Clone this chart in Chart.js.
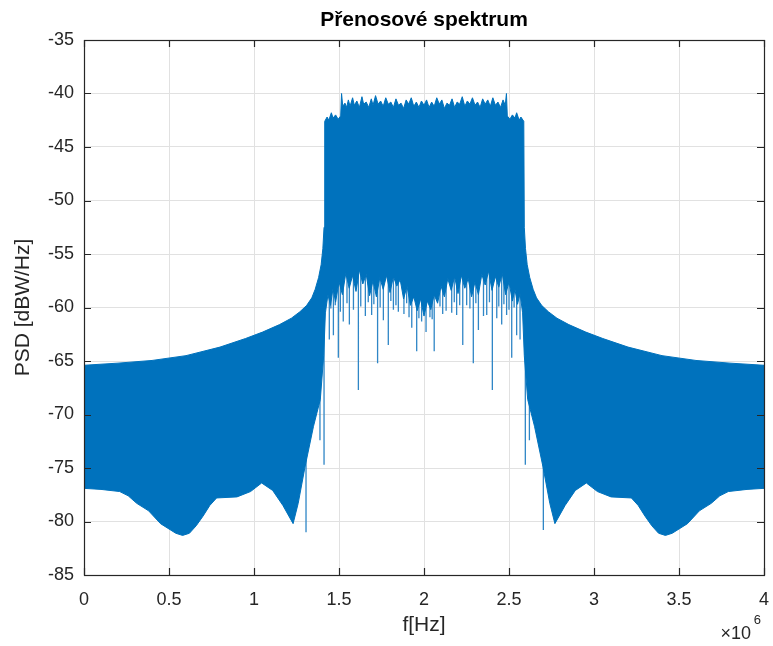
<!DOCTYPE html>
<html>
<head>
<meta charset="utf-8">
<script src="https://cdn.jsdelivr.net/npm/chart.js"></script>
<style>
  html, body { margin: 0; padding: 0; background: #ffffff; }
  #wrap { width: 773px; height: 646px; }
</style>
</head>
<body>
<div id="wrap"><canvas id="c" width="773" height="646"></canvas></div>
<script>
// ---------- data (frequency in units of 10^6 Hz, PSD in dBW/Hz) ----------
const chartTitle = 'Přenosové spektrum';
const xAxisLabel = 'f[Hz]';
const yAxisLabel = 'PSD [dBW/Hz]';
const xTickValues = [0, 0.5, 1, 1.5, 2, 2.5, 3, 3.5, 4];
const xTickLabels = ['0', '0.5', '1', '1.5', '2', '2.5', '3', '3.5', '4'];
const yTickValues = [-85, -80, -75, -70, -65, -60, -55, -50, -45, -40, -35];
const yTickLabels = ['-85', '-80', '-75', '-70', '-65', '-60', '-55', '-50', '-45', '-40', '-35'];

// upper envelope of the spectrum (left to right)
const freqUpper = [0, 0.2, 0.4, 0.6, 0.8, 0.95, 1.05, 1.15, 1.22, 1.27, 1.31, 1.34, 1.36, 1.38,
  1.395, 1.405, 1.412,
  1.416, 1.43, 1.44, 1.455, 1.465, 1.48, 1.495, 1.51, 1.515, 1.522, 1.535, 1.545, 1.555, 1.565,
  1.58, 1.59, 1.605, 1.62, 1.635, 1.645, 1.66, 1.675, 1.69, 1.70, 1.715, 1.73, 1.745, 1.76,
  1.775, 1.79, 1.805, 1.82, 1.835, 1.85, 1.865, 1.88, 1.895, 1.91, 1.925, 1.94, 1.955, 1.97,
  1.985, 2.0, 2.015, 2.03, 2.045, 2.06, 2.075, 2.09, 2.105, 2.12, 2.135, 2.15, 2.165, 2.18,
  2.195, 2.21, 2.225, 2.24, 2.255, 2.27, 2.285, 2.30, 2.315, 2.33, 2.345, 2.36, 2.375, 2.39,
  2.405, 2.42, 2.435, 2.45, 2.465, 2.478, 2.485, 2.49, 2.505, 2.52, 2.535, 2.545, 2.56, 2.57,
  2.587,
  2.590, 2.597, 2.607, 2.622, 2.642, 2.662, 2.692, 2.732, 2.782, 2.852, 2.952, 3.052, 3.2, 3.4,
  3.6, 3.8, 4.0];
const psdUpper = [-65.4, -65.2, -64.95, -64.5, -63.7, -62.9, -62.3, -61.6, -61.0, -60.4, -59.8, -59.1, -58.3, -57.2,
  -56.0, -54.5, -52.5,
  -42.6, -42.2, -42.5, -41.8, -42.3, -42.0, -42.4, -42.1, -40.0, -41.2, -40.9, -41.3, -40.6, -41.2,
  -40.4, -41.1, -40.7, -41.3, -40.3, -41.0, -40.8, -41.3, -40.5, -41.1, -40.2, -41.0, -40.7, -41.2,
  -40.4, -41.0, -40.8, -41.3, -40.5, -41.1, -40.9, -41.4, -40.6, -41.0, -40.4, -41.2, -40.8, -41.3,
  -40.7, -41.1, -40.6, -41.3, -40.8, -41.2, -40.4, -41.0, -40.6, -41.4, -40.9, -41.1, -40.5, -41.3,
  -40.8, -41.0, -40.3, -41.2, -40.7, -41.0, -40.4, -41.1, -40.8, -41.3, -40.5, -41.0, -40.6, -41.2,
  -40.4, -41.1, -40.8, -41.3, -40.6, -41.1, -40.0, -42.1, -42.4, -42.0, -42.3, -41.8, -42.5, -42.2,
  -42.6,
  -52.5, -54.5, -56.0, -57.2, -58.3, -59.1, -59.8, -60.4, -61.0, -61.6, -62.3, -62.9, -63.7, -64.5,
  -64.95, -65.2, -65.4];

// lower envelope of the spectrum (left to right)
const freqLower = [0, 0.1, 0.21, 0.26, 0.31, 0.38, 0.45, 0.50, 0.54, 0.58, 0.62, 0.66, 0.70, 0.74,
  0.78, 0.90, 0.98, 1.045, 1.11, 1.17, 1.23, 1.26, 1.30, 1.35, 1.39, 1.41, 1.42,
  1.435, 1.45, 1.465, 1.48, 1.50, 1.52, 1.54, 1.56, 1.58, 1.60, 1.62, 1.64, 1.66, 1.68, 1.70,
  1.72, 1.74, 1.76, 1.78, 1.80, 1.82, 1.84, 1.86, 1.88, 1.90, 1.92, 1.94, 1.96, 1.98, 2.00,
  2.02, 2.04, 2.06, 2.08, 2.10, 2.12, 2.14, 2.16, 2.18, 2.20, 2.22, 2.24, 2.26, 2.28, 2.30,
  2.32, 2.34, 2.36, 2.38, 2.40, 2.42, 2.44, 2.46, 2.48, 2.50, 2.52, 2.535, 2.55, 2.565, 2.58,
  2.59, 2.61, 2.65, 2.70, 2.74, 2.77, 2.83, 2.89, 2.955, 3.02, 3.10, 3.22, 3.26, 3.30, 3.34,
  3.38, 3.42, 3.46, 3.50, 3.55, 3.62, 3.69, 3.74, 3.79, 3.90, 4.0];
const psdLower = [-76.9, -77.0, -77.2, -77.6, -78.3, -79.0, -80.2, -80.7, -81.1, -81.3, -81.1, -80.4, -79.5, -78.5,
  -77.8, -77.7, -77.2, -76.4, -77.1, -78.5, -80.2, -78.3, -74.9, -71.1, -68.6, -64.5, -60.5,
  -58.8, -59.8, -58.2, -59.5, -57.6, -58.8, -56.8, -58.2, -57.0, -58.5, -56.5, -57.8, -56.9, -58.9, -57.5,
  -59.0, -57.2, -58.3, -57.0, -58.6, -57.1, -58.0, -57.4, -59.2, -58.0, -59.8, -59.0, -60.3, -59.2, -60.8,
  -59.4, -60.2, -58.8, -59.6, -58.0, -59.0, -57.3, -58.4, -57.1, -58.7, -57.0, -58.2, -57.3, -59.0, -57.6,
  -58.8, -56.9, -57.9, -56.6, -58.4, -57.1, -58.1, -56.8, -58.8, -57.6, -59.4, -58.3, -59.7, -58.7, -60.5,
  -64.5, -68.6, -71.1, -74.9, -78.3, -80.2, -78.5, -77.1, -76.4, -77.2, -77.7, -77.8, -78.5, -79.5, -80.4,
  -81.1, -81.3, -81.1, -80.7, -80.2, -79.0, -78.3, -77.6, -77.2, -77.0, -76.9];

// narrow downward spikes: frequency, value inside the band, spike tip value
const spikeFreq = [1.306, 1.388, 1.412,
  1.443, 1.452, 1.467, 1.478, 1.496, 1.508, 1.525, 1.547, 1.561, 1.585, 1.614, 1.628, 1.655,
  1.672, 1.692, 1.705, 1.727, 1.742, 1.761, 1.79, 1.805, 1.82, 1.835, 1.849, 1.882,
  1.898, 1.912, 1.928, 1.957, 1.97, 1.986, 2.012, 2.035, 2.048, 2.06, 2.094, 2.11, 2.13,
  2.163, 2.178, 2.192, 2.21, 2.228, 2.251, 2.27, 2.29, 2.305,
  2.32, 2.35, 2.369, 2.385, 2.402, 2.428, 2.44, 2.457, 2.47, 2.486, 2.5, 2.516, 2.53, 2.545, 2.565,
  2.596, 2.620, 2.702];
const spikeFrom = [-70, -62, -60,
  -50, -50, -50, -50, -50, -50, -50, -50, -50, -50, -50, -50, -50,
  -50, -50, -50, -50, -50, -50, -50, -50, -50, -50, -50, -50,
  -50, -50, -50, -50, -50, -50, -50, -50, -50, -50, -50, -50, -50,
  -50, -50, -50, -50, -50, -50, -50, -50, -50,
  -50, -50, -50, -50, -50, -50, -50, -50, -50, -50, -50, -50, -50, -50, -50,
  -60, -62, -70];
const spikeTo = [-81.0, -72.4, -74.7,
  -63.0, -60.1, -62.6, -59.8, -64.7, -60.4, -61.3, -59.6, -61.6, -60.2, -67.7, -59.9, -60.8,
  -59.5, -60.7, -59.7, -65.2, -60.0, -61.2, -63.5, -59.4, -60.2, -59.8, -60.4, -60.6,
  -59.6, -60.9, -61.9, -64.1, -61.0, -61.3, -62.3, -60.9, -61.1, -64.1, -59.9, -60.6, -60.3,
  -60.5, -59.5, -60.7, -59.8, -63.5, -59.8, -60.1, -65.2, -59.6,
  -62.1, -60.8, -60.7, -59.5, -67.7, -61.0, -59.9, -61.6, -59.7, -60.7, -60.2, -64.7, -60.0, -62.6, -63.0,
  -74.7, -72.4, -80.8];

// ---------- build datasets from the arrays ----------
const bandShape = [];
for (let i = 0; i < freqUpper.length; i++) bandShape.push({ x: freqUpper[i], y: psdUpper[i] });
for (let i = freqLower.length - 1; i >= 0; i--) bandShape.push({ x: freqLower[i], y: psdLower[i] });

const spikeSegs = [];
for (let i = 0; i < spikeFreq.length; i++) {
  spikeSegs.push({ x: spikeFreq[i], y: spikeFrom[i] });
  spikeSegs.push({ x: spikeFreq[i], y: spikeTo[i] });
  spikeSegs.push({ x: spikeFreq[i], y: null });
}

const FONT = "'Liberation Sans', Arial, Helvetica, sans-serif";
const TXT = '#262626';

const bgPlugin = {
  id: 'bg',
  beforeDraw(chart) {
    const ctx = chart.ctx;
    ctx.save();
    ctx.fillStyle = '#ffffff';
    ctx.fillRect(0, 0, chart.width, chart.height);
    ctx.restore();
  }
};

const framePlugin = {
  id: 'frame',
  afterDraw(chart) {
    const { ctx, chartArea: a, scales } = chart;
    const xs = scales.x, ys = scales.y;
    const tl = 7;
    ctx.save();
    ctx.strokeStyle = '#262626';
    ctx.lineWidth = 1.2;
    ctx.beginPath();
    xs.ticks.forEach(t => {
      const px = Math.round(xs.getPixelForValue(t.value)) + 0.5;
      ctx.moveTo(px, a.bottom); ctx.lineTo(px, a.bottom - tl);
      ctx.moveTo(px, a.top); ctx.lineTo(px, a.top + tl);
    });
    ys.ticks.forEach(t => {
      const py = Math.round(ys.getPixelForValue(t.value)) + 0.5;
      ctx.moveTo(a.left, py); ctx.lineTo(a.left + tl, py);
      ctx.moveTo(a.right, py); ctx.lineTo(a.right - tl, py);
    });
    ctx.stroke();
    ctx.strokeRect(a.left + 0.5, a.top + 0.5, a.right - a.left, a.bottom - a.top);
    // title, centred over the plot area
    ctx.fillStyle = '#000000';
    ctx.textAlign = 'center';
    ctx.textBaseline = 'middle';
    ctx.font = 'bold 21px ' + FONT;
    ctx.fillText(chartTitle, (a.left + a.right) / 2, 20);
    // exponent label of the x axis
    ctx.fillStyle = TXT;
    ctx.textBaseline = 'alphabetic';
    ctx.textAlign = 'right';
    ctx.font = '18px ' + FONT;
    ctx.fillText('\u00d710', 751, 639);
    ctx.font = '13px ' + FONT;
    ctx.fillText('6', 761, 624);
    ctx.restore();
  }
};

new Chart(document.getElementById('c'), {
  type: 'scatter',
  data: {
    datasets: [
      {
        label: 'PSD',
        data: bandShape,
        showLine: true,
        fill: 'shape',
        backgroundColor: '#0072BD',
        borderColor: '#0072BD',
        borderWidth: 1,
        pointRadius: 0,
        pointHoverRadius: 0,
        tension: 0
      },
      {
        label: 'spikes',
        data: spikeSegs,
        showLine: true,
        fill: false,
        spanGaps: false,
        borderColor: '#2f86c6',
        borderWidth: 1.3,
        pointRadius: 0,
        pointHoverRadius: 0,
        tension: 0
      }
    ]
  },
  options: {
    responsive: false,
    animation: false,
    layout: { padding: { left: 0, right: 9, top: 40, bottom: 0 } },
    plugins: {
      legend: { display: false },
      tooltip: { enabled: false },
      title: { display: false }
    },
    scales: {
      x: {
        type: 'linear',
        min: 0, max: 4,
        afterBuildTicks: s => { s.ticks = xTickValues.map(v => ({ value: v })); },
        afterFit: s => { s.height = 71; s.paddingLeft = 0; s.paddingRight = 0; },
        ticks: {
          color: TXT,
          font: { family: FONT, size: 18 },
          padding: 14,
          maxRotation: 0,
          autoSkip: false,
          callback: (v) => { const i = xTickValues.indexOf(v); return i >= 0 ? xTickLabels[i] : ''; }
        },
        grid: { color: '#e1e1e1', lineWidth: 1, drawTicks: false },
        border: { display: false },
        title: {
          display: true,
          text: xAxisLabel,
          color: TXT,
          font: { family: FONT, size: 21, lineHeight: 1.2 },
          padding: { top: 0, bottom: 8 }
        }
      },
      y: {
        type: 'linear',
        min: -85, max: -35,
        afterBuildTicks: s => { s.ticks = yTickValues.map(v => ({ value: v })); },
        afterFit: s => { s.width = 84; s.paddingTop = 0; s.paddingBottom = 0; },
        ticks: {
          color: TXT,
          font: { family: FONT, size: 18 },
          padding: 10,
          autoSkip: false,
          callback: (v) => { const i = yTickValues.indexOf(v); return i >= 0 ? yTickLabels[i] : ''; }
        },
        grid: { color: '#e1e1e1', lineWidth: 1, drawTicks: false },
        border: { display: false },
        title: {
          display: true,
          text: yAxisLabel,
          color: TXT,
          font: { family: FONT, size: 21, lineHeight: 1.2 },
          padding: { top: 11, bottom: 0 }
        }
      }
    }
  },
  plugins: [bgPlugin, framePlugin]
});
</script>
</body>
</html>
